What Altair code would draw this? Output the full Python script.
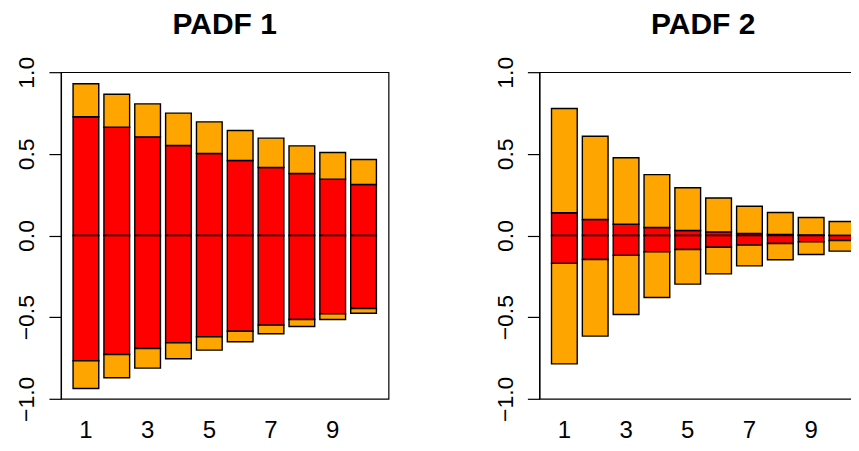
import altair as alt
import pandas as pd

lags = list(range(1, 11))

# PADF 1
orange_top_1 = [0.929, 0.865, 0.806, 0.749, 0.696, 0.643, 0.596, 0.549, 0.508, 0.465]
red_top_1 = [0.727, 0.663, 0.604, 0.551, 0.502, 0.459, 0.416, 0.380, 0.345, 0.312]
red_bot_1 = [-0.767, -0.729, -0.692, -0.657, -0.620, -0.586, -0.549, -0.514, -0.480, -0.447]
orange_bot_1 = [-0.937, -0.871, -0.812, -0.755, -0.702, -0.651, -0.602, -0.557, -0.514, -0.476]

# PADF 2
orange_top_2 = [0.778, 0.608, 0.476, 0.373, 0.292, 0.230, 0.179, 0.141, 0.110, 0.086]
red_top_2 = [0.139, 0.098, 0.069, 0.049, 0.031, 0.022, 0.012, 0.006, 0.003, 0.001]
red_bot_2 = [-0.171, -0.147, -0.122, -0.100, -0.086, -0.072, -0.059, -0.049, -0.039, -0.031]
orange_bot_2 = [-0.786, -0.616, -0.484, -0.380, -0.298, -0.235, -0.186, -0.149, -0.116, -0.096]

x_labels = [1, 3, 5, 7, 9]
y_ticks = [-1.0, -0.5, 0.0, 0.5, 1.0]
titles = ["PADF 1", "PADF 2"]

FONT = "Liberation Sans"


def segments(o_top, r_top, r_bot, o_bot):
    rows = []
    for i, lag in enumerate(lags):
        rows.append({"lag": lag, "lo": 0.0, "hi": r_top[i], "part": "red"})
        rows.append({"lag": lag, "lo": r_top[i], "hi": o_top[i], "part": "orange"})
        rows.append({"lag": lag, "lo": r_bot[i], "hi": 0.0, "part": "red"})
        rows.append({"lag": lag, "lo": o_bot[i], "hi": r_bot[i], "part": "orange"})
    return pd.DataFrame(rows)


def panel(df, title):
    return (
        alt.Chart(df, title=alt.TitleParams(
            title, fontSize=30, fontWeight="bold", font=FONT, anchor="middle",
            color="black", offset=-8, baseline="alphabetic"))
        .mark_bar(stroke="black", strokeWidth=1.4, clip=True)
        .encode(
            x=alt.X("lag:O",
                    scale=alt.Scale(paddingInner=0.2 / 1.2, paddingOuter=0.472 / 1.2),
                    axis=alt.Axis(values=x_labels, labelAngle=0, domain=False, ticks=False,
                                  labelBaseline="alphabetic", labelAlign="center",
                                  labelPadding=38.5, labelFontSize=24, labelFont=FONT,
                                  labelColor="black", title=None)),
            y=alt.Y("lo:Q", scale=alt.Scale(domain=[-1, 1], nice=False, zero=False),
                    axis=alt.Axis(values=y_ticks, format=".1f", labelAngle=270,
                                  labelAlign="center", labelBaseline="alphabetic",
                                  tickSize=12, labelPadding=15, labelFontSize=23,
                                  labelFont=FONT, labelColor="black", grid=False,
                                  domainColor="black", tickColor="black",
                                  domainWidth=1.2, tickWidth=1.2, title=None)),
            y2="hi:Q",
            color=alt.Color("part:N",
                            scale=alt.Scale(domain=["red", "orange"], range=["#FF0000", "#FFA500"]),
                            legend=None),
        )
        .properties(width=328, height=327)
    )


left = panel(segments(orange_top_1, red_top_1, red_bot_1, orange_bot_1), titles[0])
right = panel(segments(orange_top_2, red_top_2, red_bot_2, orange_bot_2), titles[1])

chart = (
    alt.hconcat(left, right, spacing=151, bounds="flush")
    .properties(padding={"left": 7, "top": 1, "right": -17, "bottom": 0}, background="white")
    .configure_view(stroke="black", strokeWidth=1.2)
)

chart.save("out.html", embed_options={"renderer": "svg", "actions": False})
